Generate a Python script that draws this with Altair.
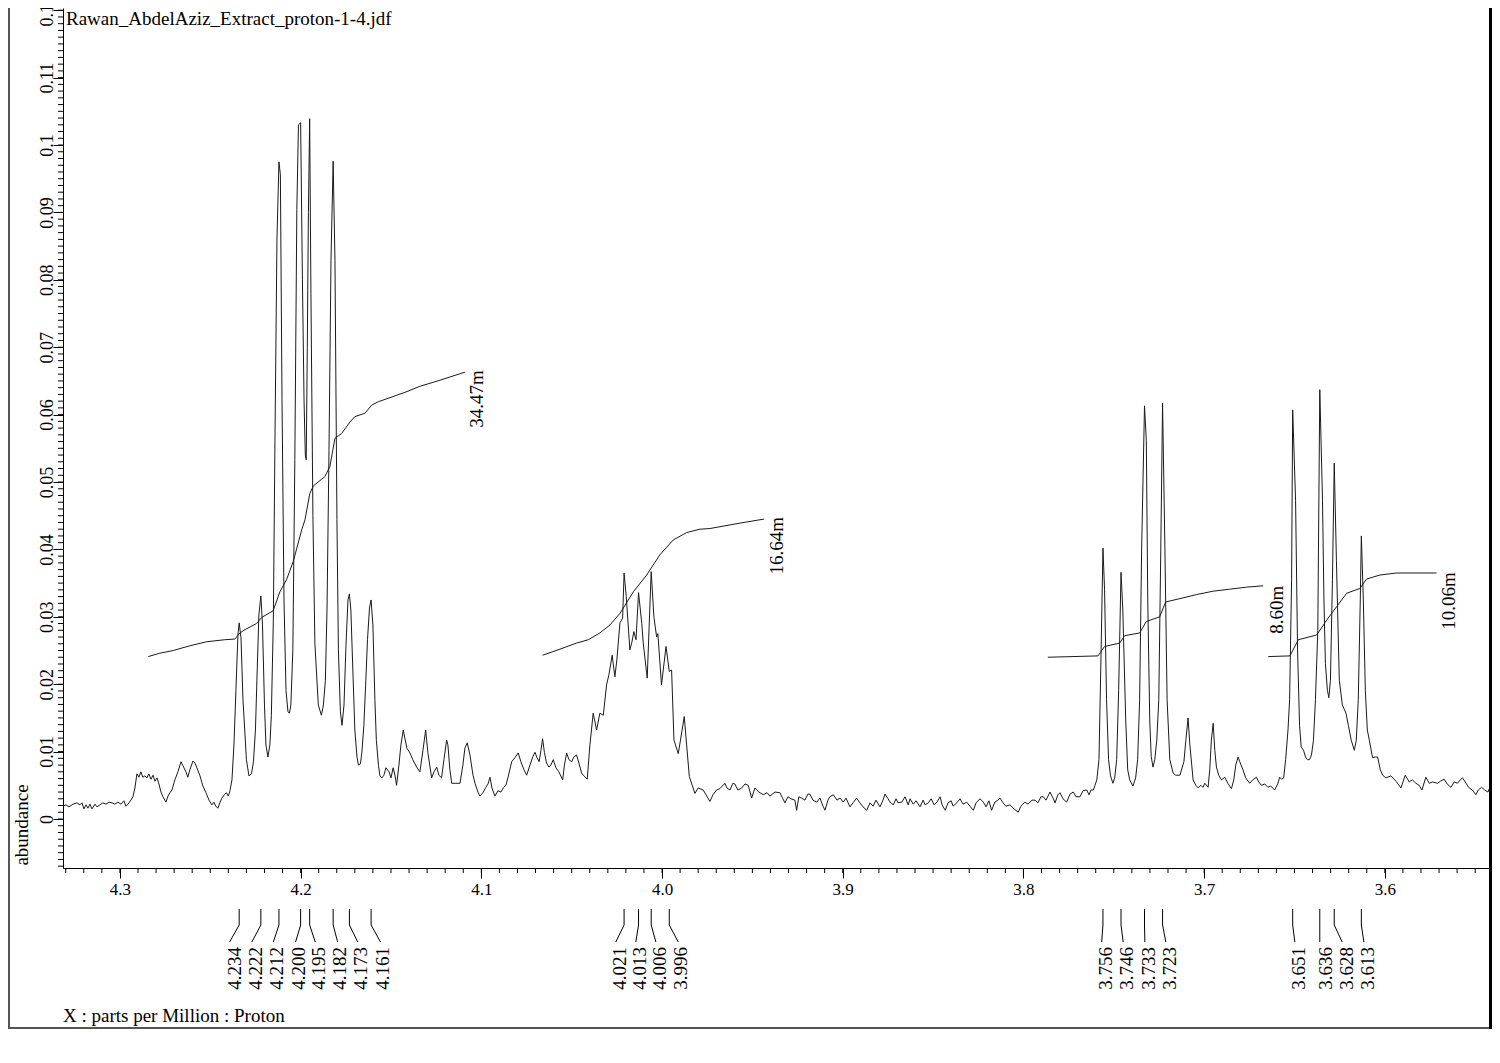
import altair as alt
import pandas as pd

SERIF = "Liberation Serif"
TITLE = "Rawan_AbdelAziz_Extract_proton-1-4.jdf"
X_CAPTION = "X : parts per Million : Proton"
Y_CAPTION = "abundance"

# spectrum trace (ppm, abundance), left to right
spectrum_left = [
    (4.3315, 0.0019), (4.3299, 0.0021), (4.3282, 0.0018), (4.3260, 0.0022), (4.3238, 0.0024),
    (4.3221, 0.0021), (4.3210, 0.0024), (4.3199, 0.0015), (4.3188, 0.0021), (4.3177, 0.0016),
    (4.3166, 0.0022), (4.3155, 0.0015), (4.3138, 0.0022), (4.3127, 0.0018), (4.3111, 0.0021),
    (4.3094, 0.0024), (4.3077, 0.0022), (4.3061, 0.0025), (4.3044, 0.0024), (4.3028, 0.0022),
    (4.3011, 0.0025), (4.2994, 0.0022), (4.2978, 0.0027), (4.2967, 0.0019), (4.2956, 0.0022),
    (4.2939, 0.0028), (4.2928, 0.0033), (4.2917, 0.0046), (4.2906, 0.0067), (4.2895, 0.0062),
    (4.2884, 0.0070), (4.2873, 0.0062), (4.2862, 0.0064), (4.2851, 0.0061), (4.2840, 0.0067),
    (4.2828, 0.0059), (4.2817, 0.0065), (4.2806, 0.0056), (4.2795, 0.0061), (4.2784, 0.0052),
    (4.2773, 0.0040), (4.2762, 0.0033), (4.2745, 0.0025), (4.2734, 0.0034), (4.2723, 0.0039),
    (4.2712, 0.0043), (4.2696, 0.0058), (4.2679, 0.0070), (4.2662, 0.0085), (4.2651, 0.0079),
    (4.2635, 0.0070), (4.2624, 0.0062), (4.2613, 0.0073), (4.2596, 0.0086), (4.2585, 0.0083),
    (4.2574, 0.0076), (4.2557, 0.0064), (4.2541, 0.0049), (4.2524, 0.0039), (4.2507, 0.0028),
    (4.2491, 0.0021), (4.2480, 0.0025), (4.2469, 0.0019), (4.2458, 0.0016), (4.2447, 0.0024),
    (4.2436, 0.0031), (4.2422, 0.0036), (4.2411, 0.0039), (4.2400, 0.0034), (4.2391, 0.0042),
    (4.2380, 0.0058), (4.2369, 0.0110), (4.2358, 0.0191), (4.2347, 0.0273), (4.2340, 0.0291),
    (4.2330, 0.0269), (4.2319, 0.0177), (4.2300, 0.0088), (4.2286, 0.0064), (4.2272, 0.0067),
    (4.2261, 0.0085), (4.2250, 0.0132), (4.2242, 0.0206), (4.2231, 0.0303), (4.2220, 0.0331),
    (4.2211, 0.0288), (4.2200, 0.0169), (4.2192, 0.0110), (4.2181, 0.0092), (4.2170, 0.0110),
    (4.2162, 0.0154), (4.2151, 0.0295), (4.2142, 0.0562), (4.2131, 0.0859), (4.2120, 0.0975),
    (4.2112, 0.0956), (4.2103, 0.0622), (4.2092, 0.0325), (4.2081, 0.0191), (4.2070, 0.0159),
    (4.2062, 0.0157), (4.2054, 0.0169), (4.2043, 0.0251), (4.2032, 0.0533), (4.2021, 0.0904),
    (4.2012, 0.1030), (4.2000, 0.1033), (4.1990, 0.0800), (4.1981, 0.0620), (4.1974, 0.0540),
    (4.1969, 0.0533), (4.1963, 0.0700), (4.1957, 0.0900), (4.1950, 0.1039), (4.1943, 0.0780),
    (4.1932, 0.0450), (4.1921, 0.0260), (4.1902, 0.0169), (4.1885, 0.0154), (4.1874, 0.0169),
    (4.1863, 0.0206), (4.1854, 0.0310), (4.1843, 0.0547), (4.1832, 0.0829), (4.1820, 0.0976),
    (4.1810, 0.0829), (4.1799, 0.0444), (4.1791, 0.0251), (4.1780, 0.0159), (4.1771, 0.0139),
    (4.1760, 0.0169), (4.1749, 0.0258), (4.1738, 0.0325), (4.1730, 0.0334), (4.1722, 0.0310),
    (4.1711, 0.0221), (4.1700, 0.0132), (4.1688, 0.0092), (4.1680, 0.0080), (4.1669, 0.0082),
    (4.1661, 0.0099), (4.1650, 0.0139), (4.1639, 0.0206), (4.1630, 0.0266), (4.1619, 0.0313),
    (4.1610, 0.0325), (4.1600, 0.0288), (4.1589, 0.0177), (4.1581, 0.0117), (4.1569, 0.0079),
    (4.1561, 0.0064), (4.1550, 0.0061), (4.1539, 0.0065), (4.1528, 0.0076), (4.1511, 0.0070),
    (4.1500, 0.0061), (4.1488, 0.0076), (4.1478, 0.0065), (4.1469, 0.0050), (4.1456, 0.0080),
    (4.1445, 0.0110), (4.1432, 0.0132), (4.1423, 0.0120), (4.1412, 0.0105), (4.1395, 0.0098),
    (4.1379, 0.0088), (4.1358, 0.0077), (4.1340, 0.0070), (4.1323, 0.0102), (4.1308, 0.0132),
    (4.1296, 0.0099), (4.1275, 0.0061), (4.1262, 0.0070), (4.1247, 0.0077), (4.1235, 0.0065),
    (4.1220, 0.0061), (4.1207, 0.0088), (4.1192, 0.0117), (4.1185, 0.0110), (4.1174, 0.0073),
    (4.1164, 0.0053), (4.1141, 0.0053), (4.1118, 0.0053), (4.1102, 0.0080), (4.1091, 0.0105),
    (4.1078, 0.0113), (4.1063, 0.0095), (4.1046, 0.0065), (4.1035, 0.0053), (4.1019, 0.0040),
    (4.1008, 0.0034), (4.0991, 0.0039), (4.0975, 0.0047), (4.0963, 0.0052), (4.0952, 0.0062),
    (4.0941, 0.0046), (4.0925, 0.0034), (4.0908, 0.0042), (4.0892, 0.0040), (4.0879, 0.0046),
    (4.0864, 0.0050), (4.0853, 0.0061), (4.0832, 0.0085), (4.0814, 0.0091), (4.0796, 0.0098),
    (4.0781, 0.0085), (4.0764, 0.0073), (4.0749, 0.0065), (4.0731, 0.0080), (4.0714, 0.0093),
    (4.0703, 0.0099), (4.0692, 0.0091), (4.0680, 0.0085), (4.0670, 0.0102), (4.0661, 0.0119),
    (4.0651, 0.0099), (4.0639, 0.0083), (4.0626, 0.0077), (4.0615, 0.0080), (4.0602, 0.0088),
    (4.0587, 0.0076), (4.0571, 0.0070), (4.0550, 0.0058), (4.0540, 0.0080), (4.0528, 0.0098),
    (4.0515, 0.0088), (4.0500, 0.0085), (4.0488, 0.0092), (4.0473, 0.0095), (4.0460, 0.0083),
    (4.0445, 0.0068), (4.0432, 0.0064), (4.0414, 0.0059), (4.0399, 0.0110), (4.0381, 0.0157),
    (4.0362, 0.0132), (4.0344, 0.0157), (4.0325, 0.0154), (4.0307, 0.0199), (4.0294, 0.0214),
    (4.0276, 0.0243), (4.0261, 0.0211), (4.0250, 0.0236), (4.0233, 0.0291), (4.0218, 0.0298),
    (4.0210, 0.0365), (4.0198, 0.0330), (4.0178, 0.0251), (4.0167, 0.0262), (4.0156, 0.0278),
    (4.0144, 0.0266), (4.0130, 0.0336), (4.0112, 0.0290), (4.0104, 0.0261), (4.0082, 0.0209),
    (4.0060, 0.0367), (4.0045, 0.0300), (4.0030, 0.0270), (4.0023, 0.0275), (4.0003, 0.0199),
    (3.9978, 0.0256), (3.9960, 0.0219), (3.9947, 0.0221), (3.9934, 0.0117), (3.9910, 0.0097),
    (3.9877, 0.0152), (3.9849, 0.0063), (3.9818, 0.0038), (3.9800, 0.0046), (3.9772, 0.0043),
    (3.9735, 0.0026),
]

spectrum_mid = [
    (3.9718, 0.0036), (3.9698, 0.0043), (3.9680, 0.0045), (3.9652, 0.0053), (3.9641, 0.0046),
    (3.9624, 0.0043), (3.9608, 0.0053), (3.9597, 0.0052), (3.9580, 0.0043), (3.9559, 0.0046),
    (3.9541, 0.0052), (3.9523, 0.0050), (3.9504, 0.0031), (3.9486, 0.0046), (3.9464, 0.0040),
    (3.9440, 0.0036), (3.9419, 0.0039), (3.9403, 0.0034), (3.9375, 0.0040), (3.9348, 0.0039),
    (3.9331, 0.0030), (3.9320, 0.0024), (3.9303, 0.0033), (3.9287, 0.0030), (3.9265, 0.0028),
    (3.9255, 0.0013), (3.9243, 0.0033), (3.9228, 0.0031), (3.9209, 0.0028), (3.9193, 0.0037),
    (3.9182, 0.0037), (3.9165, 0.0028), (3.9144, 0.0025), (3.9126, 0.0031), (3.9109, 0.0019),
    (3.9098, 0.0013), (3.9082, 0.0028), (3.9071, 0.0033), (3.9052, 0.0036), (3.9032, 0.0028),
    (3.9015, 0.0031), (3.8997, 0.0025), (3.8982, 0.0031), (3.8960, 0.0018), (3.8943, 0.0024),
    (3.8923, 0.0031), (3.8905, 0.0024), (3.8888, 0.0018), (3.8867, 0.0013), (3.8849, 0.0024),
    (3.8832, 0.0019), (3.8816, 0.0028), (3.8794, 0.0018), (3.8777, 0.0028), (3.8766, 0.0037),
    (3.8749, 0.0030), (3.8738, 0.0025), (3.8720, 0.0021), (3.8705, 0.0030), (3.8694, 0.0024),
    (3.8673, 0.0025), (3.8655, 0.0033), (3.8638, 0.0021), (3.8627, 0.0030), (3.8610, 0.0022),
    (3.8594, 0.0027), (3.8572, 0.0018), (3.8555, 0.0028), (3.8544, 0.0021), (3.8526, 0.0024),
    (3.8511, 0.0030), (3.8494, 0.0021), (3.8479, 0.0025), (3.8461, 0.0033), (3.8450, 0.0021),
    (3.8433, 0.0013), (3.8417, 0.0024), (3.8400, 0.0027), (3.8389, 0.0019), (3.8369, 0.0024),
    (3.8351, 0.0030), (3.8334, 0.0022), (3.8314, 0.0025), (3.8296, 0.0019), (3.8277, 0.0013),
    (3.8262, 0.0024), (3.8240, 0.0030), (3.8222, 0.0025), (3.8207, 0.0018), (3.8191, 0.0027),
    (3.8176, 0.0013), (3.8158, 0.0025), (3.8141, 0.0028), (3.8130, 0.0031), (3.8113, 0.0024),
    (3.8097, 0.0019), (3.8075, 0.0021), (3.8052, 0.0015), (3.8029, 0.0010), (3.8014, 0.0019),
    (3.7992, 0.0025), (3.7975, 0.0022), (3.7953, 0.0028), (3.7936, 0.0028), (3.7920, 0.0024),
    (3.7903, 0.0033), (3.7890, 0.0033), (3.7875, 0.0028), (3.7853, 0.0040), (3.7836, 0.0031),
    (3.7825, 0.0024), (3.7809, 0.0036), (3.7798, 0.0039), (3.7781, 0.0030), (3.7761, 0.0025),
    (3.7742, 0.0037), (3.7724, 0.0040), (3.7709, 0.0033), (3.7687, 0.0033), (3.7670, 0.0042),
    (3.7650, 0.0043), (3.7637, 0.0036), (3.7626, 0.0043), (3.7613, 0.0043), (3.7604, 0.0050),
]

spectrum_right = [
    (3.7594, 0.0058), (3.7582, 0.0088), (3.7570, 0.0251), (3.7560, 0.0402), (3.7551, 0.0340),
    (3.7540, 0.0177), (3.7529, 0.0088), (3.7518, 0.0064), (3.7505, 0.0053), (3.7495, 0.0061),
    (3.7484, 0.0088), (3.7473, 0.0191), (3.7460, 0.0366), (3.7450, 0.0310), (3.7434, 0.0147),
    (3.7423, 0.0073), (3.7412, 0.0058), (3.7394, 0.0049), (3.7379, 0.0061), (3.7368, 0.0088),
    (3.7357, 0.0177), (3.7346, 0.0399), (3.7330, 0.0613), (3.7320, 0.0562), (3.7312, 0.0325),
    (3.7301, 0.0147), (3.7293, 0.0093), (3.7283, 0.0077), (3.7273, 0.0088), (3.7262, 0.0117),
    (3.7251, 0.0177), (3.7240, 0.0399), (3.7230, 0.0617), (3.7217, 0.0399), (3.7205, 0.0177),
    (3.7190, 0.0088), (3.7171, 0.0068), (3.7157, 0.0065), (3.7134, 0.0065), (3.7112, 0.0085),
    (3.7101, 0.0117), (3.7089, 0.0150), (3.7079, 0.0110), (3.7061, 0.0058), (3.7046, 0.0050),
    (3.7033, 0.0046), (3.7018, 0.0050), (3.7007, 0.0047), (3.6996, 0.0053), (3.6978, 0.0047),
    (3.6969, 0.0073), (3.6960, 0.0117), (3.6950, 0.0142), (3.6941, 0.0102), (3.6932, 0.0077),
    (3.6919, 0.0065), (3.6904, 0.0058), (3.6886, 0.0062), (3.6869, 0.0053), (3.6849, 0.0045),
    (3.6836, 0.0058), (3.6825, 0.0080), (3.6812, 0.0092), (3.6803, 0.0085), (3.6785, 0.0073),
    (3.6770, 0.0061), (3.6748, 0.0053), (3.6731, 0.0058), (3.6711, 0.0062), (3.6698, 0.0055),
    (3.6683, 0.0050), (3.6665, 0.0052), (3.6647, 0.0047), (3.6632, 0.0049), (3.6610, 0.0043),
    (3.6593, 0.0052), (3.6582, 0.0062), (3.6571, 0.0059), (3.6560, 0.0061), (3.6549, 0.0088),
    (3.6536, 0.0132), (3.6527, 0.0177), (3.6516, 0.0355), (3.6510, 0.0607), (3.6494, 0.0473),
    (3.6483, 0.0251), (3.6472, 0.0139), (3.6463, 0.0107), (3.6450, 0.0102), (3.6439, 0.0092),
    (3.6428, 0.0088), (3.6417, 0.0088), (3.6406, 0.0095), (3.6395, 0.0117), (3.6384, 0.0177),
    (3.6371, 0.0280), (3.6360, 0.0637), (3.6345, 0.0473), (3.6337, 0.0325), (3.6329, 0.0231),
    (3.6318, 0.0191), (3.6310, 0.0180), (3.6301, 0.0206), (3.6290, 0.0355), (3.6280, 0.0528),
    (3.6268, 0.0384), (3.6252, 0.0206), (3.6235, 0.0169), (3.6215, 0.0157), (3.6202, 0.0139),
    (3.6186, 0.0117), (3.6169, 0.0102), (3.6158, 0.0117), (3.6147, 0.0177), (3.6136, 0.0325),
    (3.6130, 0.0420), (3.6119, 0.0325), (3.6108, 0.0191), (3.6097, 0.0132), (3.6086, 0.0117),
    (3.6068, 0.0091), (3.6053, 0.0092), (3.6040, 0.0092), (3.6025, 0.0073), (3.6012, 0.0065),
    (3.5994, 0.0061), (3.5966, 0.0064), (3.5938, 0.0056), (3.5911, 0.0046), (3.5887, 0.0065),
    (3.5865, 0.0055), (3.5848, 0.0058), (3.5828, 0.0053), (3.5810, 0.0050), (3.5795, 0.0043),
    (3.5773, 0.0062), (3.5754, 0.0053), (3.5736, 0.0055), (3.5708, 0.0053), (3.5693, 0.0056),
    (3.5671, 0.0059), (3.5655, 0.0052), (3.5634, 0.0047), (3.5616, 0.0055), (3.5598, 0.0053),
    (3.5583, 0.0058), (3.5570, 0.0061), (3.5555, 0.0055), (3.5537, 0.0047), (3.5516, 0.0043),
    (3.5496, 0.0036), (3.5483, 0.0043), (3.5465, 0.0047), (3.5447, 0.0043), (3.5429, 0.0040),
    (3.5410, 0.0053), (3.5392, 0.0050),
]

# integration curves (ppm, abundance-axis value)
integral_1 = [
    (4.2843, 0.0241), (4.2779, 0.0246), (4.2705, 0.0250), (4.2613, 0.0257), (4.2520, 0.0263),
    (4.2420, 0.0266), (4.2364, 0.0267), (4.2336, 0.0276), (4.2308, 0.0281), (4.2244, 0.0290),
    (4.2216, 0.0299), (4.2152, 0.0309), (4.2115, 0.0337), (4.2078, 0.0355), (4.2041, 0.0382),
    (4.1994, 0.0429), (4.1976, 0.0444), (4.1949, 0.0483), (4.1930, 0.0494), (4.1866, 0.0508),
    (4.1838, 0.0523), (4.1810, 0.0565), (4.1773, 0.0572), (4.1727, 0.0589), (4.1700, 0.0597),
    (4.1644, 0.0602), (4.1607, 0.0614), (4.1571, 0.0619), (4.1423, 0.0633), (4.1340, 0.0642),
    (4.1229, 0.0651), (4.1091, 0.0663),
]
integral_2 = [
    (4.0661, 0.0243), (4.0565, 0.0252), (4.0473, 0.0261), (4.0408, 0.0266), (4.0344, 0.0276),
    (4.0288, 0.0288), (4.0233, 0.0305), (4.0159, 0.0337), (4.0085, 0.0362), (4.0012, 0.0392),
    (3.9938, 0.0414), (3.9864, 0.0425), (3.9790, 0.0430), (3.9735, 0.0431), (3.9569, 0.0439),
    (3.9436, 0.0445),
]
integral_3 = [
    (3.7865, 0.0240), (3.7587, 0.0242), (3.7551, 0.0256), (3.7467, 0.0261), (3.7440, 0.0272),
    (3.7357, 0.0276), (3.7320, 0.0293), (3.7246, 0.0300), (3.7213, 0.0322), (3.7134, 0.0327),
    (3.7042, 0.0333), (3.6950, 0.0338), (3.6858, 0.0341), (3.6765, 0.0344), (3.6673, 0.0346),
]
integral_4 = [
    (3.6645, 0.0241), (3.6525, 0.0242), (3.6479, 0.0266), (3.6377, 0.0273), (3.6322, 0.0295),
    (3.6267, 0.0315), (3.6211, 0.0335), (3.6138, 0.0342), (3.6101, 0.0356), (3.6027, 0.0362),
    (3.5935, 0.0365), (3.5714, 0.0365),
]
integral_text = ["34.47m", "16.64m", "8.60m", "10.06m"]
integral_text_ppm = [4.1024, 3.9364, 3.6597, 3.5644]
integral_text_top = [0.0666, 0.0448, 0.0346, 0.0366]

# peak picking
peak_ppm = [4.234, 4.222, 4.212, 4.200, 4.195, 4.182, 4.173, 4.161,
            4.021, 4.013, 4.006, 3.996,
            3.756, 3.746, 3.733, 3.723,
            3.651, 3.636, 3.628, 3.613]
peak_text = ["4.234", "4.222", "4.212", "4.200", "4.195", "4.182", "4.173", "4.161",
             "4.021", "4.013", "4.006", "3.996",
             "3.756", "3.746", "3.733", "3.723",
             "3.651", "3.636", "3.628", "3.613"]
leader_end_ppm = [4.2393, 4.2270, 4.2151, 4.2028, 4.1919, 4.1795, 4.1684, 4.1558,
                  4.0256, 4.0145, 4.0034, 3.9910,
                  3.7567, 3.7448, 3.7328, 3.7212,
                  3.6498, 3.6360, 3.6236, 3.6116]
label_ppm = [4.2364, 4.2245, 4.2129, 4.2011, 4.1899, 4.1783, 4.1665, 4.1546,
             4.0231, 4.0120, 4.0009, 3.9893,
             3.7543, 3.7429, 3.7306, 3.7190,
             3.6477, 3.6323, 3.6211, 3.6094]

x_major = [4.3, 4.2, 4.1, 4.0, 3.9, 3.8, 3.7, 3.6]
y_major = [0, 0.01, 0.02, 0.03, 0.04, 0.05, 0.06, 0.07, 0.08, 0.09, 0.1, 0.11, 0.12]
x_minor = [round(4.33 - 0.01 * k, 2) for k in range(79)]
y_minor = [round(-0.007 + 0.001 * k, 3) for k in range(128)]

X_DOMAIN = [3.5407, 4.3315]
Y_DOMAIN = [-0.00727, 0.12033]
W, H = 1429, 860

# ---------------- build chart ----------------
spec_rows = []
for seg in (spectrum_left, spectrum_mid, spectrum_right):
    spec_rows.extend(seg)
spec_df = pd.DataFrame(spec_rows, columns=["ppm", "ab"])
spec_df["i"] = range(len(spec_df))

int_rows = []
for name, curve in (("a", integral_1), ("b", integral_2), ("c", integral_3), ("d", integral_4)):
    for j, (p, a) in enumerate(curve):
        int_rows.append({"curve": name, "ppm": p, "ab": a, "i": j})
int_df = pd.DataFrame(int_rows)

int_lab_df = pd.DataFrame({"ppm": integral_text_ppm, "ab": integral_text_top, "t": integral_text})
peak_df = pd.DataFrame({"peak": peak_ppm, "end": leader_end_ppm, "lab": label_ppm, "t": peak_text})

xscale = alt.Scale(domain=X_DOMAIN, reverse=True, nice=False, zero=False)
yscale = alt.Scale(domain=Y_DOMAIN, nice=False, zero=False)

xaxis = alt.Axis(values=x_major, format=".1f", title=None, grid=False, tickSize=10,
                 domainColor="black", tickColor="black", labelColor="black",
                 labelFont=SERIF, labelFontSize=17, labelPadding=3, labelFlush=False,
                 labelOverlap=False, domainWidth=1, tickWidth=1)
yaxis = alt.Axis(values=y_major, format="~g", title=None, grid=False, tickSize=10,
                 domainColor="black", tickColor="black", labelColor="black",
                 labelFont=SERIF, labelFontSize=18, labelAngle=270, labelAlign="center",
                 labelBaseline="alphabetic", labelPadding=1, labelFlush=False,
                 labelOverlap=False, domainWidth=1, tickWidth=1)


def X(field):
    return alt.X(field, type="quantitative", scale=xscale, axis=xaxis)


def Y(field):
    return alt.Y(field, type="quantitative", scale=yscale, axis=yaxis)


LINE = "#1a1a1a"

spectrum = alt.Chart(spec_df).mark_line(color=LINE, strokeWidth=1, clip=True).encode(
    x=X("ppm"), y=Y("ab"), order=alt.Order("i:Q"))

integrals = alt.Chart(int_df).mark_line(color=LINE, strokeWidth=1).encode(
    x=X("ppm"), y=Y("ab"), detail="curve:N", order=alt.Order("i:Q"))

int_labels = alt.Chart(int_lab_df).mark_text(
    angle=270, align="right", baseline="middle", font=SERIF, fontSize=19, color="black"
).encode(x=X("ppm"), y=Y("ab"), text="t:N")

x_minor_ticks = alt.Chart(pd.DataFrame({"v": x_minor})).mark_rule(color="black", strokeWidth=1).encode(
    x=X("v"), y=alt.value(H), y2=alt.value(H + 5))
y_minor_ticks = alt.Chart(pd.DataFrame({"v": y_minor})).mark_rule(color="black", strokeWidth=1).encode(
    y=Y("v"), x=alt.value(-5), x2=alt.value(0))

lead_v = alt.Chart(peak_df).mark_rule(color="black", strokeWidth=1).encode(
    x=X("peak"), y=alt.value(901), y2=alt.value(917))
lead_s = alt.Chart(peak_df).mark_rule(color="black", strokeWidth=1).encode(
    x=X("peak"), x2=alt.X2("end"), y=alt.value(917), y2=alt.value(934))
peak_labels = alt.Chart(peak_df).mark_text(
    angle=270, align="right", baseline="middle", font=SERIF, fontSize=19, color="black"
).encode(x=X("lab"), y=alt.value(939), text="t:N")

title = alt.Chart(pd.DataFrame({"t": [TITLE]})).mark_text(
    align="left", baseline="alphabetic", font=SERIF, fontSize=19, color="black"
).encode(x=alt.value(3), y=alt.value(17), text="t:N")
ytitle = alt.Chart(pd.DataFrame({"t": [Y_CAPTION]})).mark_text(
    angle=270, align="center", baseline="middle", font=SERIF, fontSize=19, color="black"
).encode(x=alt.value(-41), y=alt.value(817), text="t:N")
xtitle = alt.Chart(pd.DataFrame({"t": [X_CAPTION]})).mark_text(
    align="left", baseline="middle", font=SERIF, fontSize=19, color="black"
).encode(x=alt.value(0), y=alt.value(1008), text="t:N")

dummy = pd.DataFrame({"k": [0]})
frame_left = alt.Chart(dummy).mark_rule(color="#555", strokeWidth=2).encode(
    x=alt.value(-54), y=alt.value(0), y2=alt.value(1020))
frame_bottom = alt.Chart(dummy).mark_rule(color="#555", strokeWidth=2).encode(
    x=alt.value(-55), x2=alt.value(W), y=alt.value(1020))
frame_right = alt.Chart(dummy).mark_rule(color="black", strokeWidth=3).encode(
    x=alt.value(W - 1.5), y=alt.value(0), y2=alt.value(1021))

chart = alt.layer(
    spectrum, integrals, int_labels, x_minor_ticks, y_minor_ticks,
    lead_v, lead_s, peak_labels, title, ytitle, xtitle,
    frame_left, frame_bottom, frame_right,
).properties(
    width=W, height=H,
    autosize=alt.AutoSizeParams(type="none"),
    padding={"left": 55, "top": 0, "right": 0, "bottom": 165},
    background="white",
).configure_view(stroke=None)

chart.save("out.html", embed_options={"renderer": "svg", "actions": False})
